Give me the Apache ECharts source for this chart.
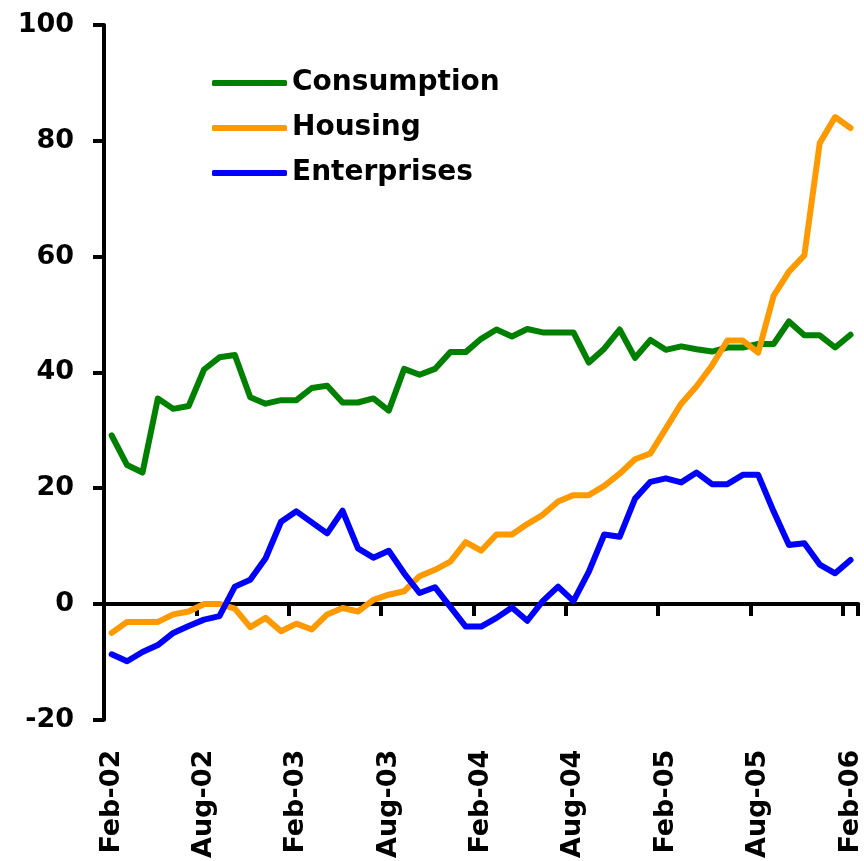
<!DOCTYPE html>
<html>
<head>
<meta charset="utf-8">
<script src="https://cdn.jsdelivr.net/npm/echarts@6/dist/echarts.min.js"></script>
<style>
html,body{margin:0;padding:0;background:#fff;}
#chart{width:864px;height:861px;}
</style>
</head>
<body>
<div id="chart"></div>
<script>
const categories = [
  'Feb-02','Mar-02','Apr-02','May-02','Jun-02','Jul-02','Aug-02','Sep-02','Oct-02','Nov-02','Dec-02','Jan-03',
  'Feb-03','Mar-03','Apr-03','May-03','Jun-03','Jul-03','Aug-03','Sep-03','Oct-03','Nov-03','Dec-03','Jan-04',
  'Feb-04','Mar-04','Apr-04','May-04','Jun-04','Jul-04','Aug-04','Sep-04','Oct-04','Nov-04','Dec-04','Jan-05',
  'Feb-05','Mar-05','Apr-05','May-05','Jun-05','Jul-05','Aug-05','Sep-05','Oct-05','Nov-05','Dec-05','Jan-06',
  'Feb-06'
];
const consumption = [29.1,24.0,22.7,35.5,33.7,34.2,40.5,42.6,43.0,35.7,34.6,35.2,
  35.2,37.3,37.7,34.8,34.8,35.5,33.4,40.6,39.6,40.6,43.5,43.5,
  45.8,47.4,46.2,47.5,46.9,46.9,46.9,41.7,44.1,47.4,42.5,45.6,
  43.9,44.5,44.0,43.6,44.3,44.3,44.9,44.9,48.8,46.4,46.4,44.3,46.5];
const housing = [-5.0,-3.1,-3.1,-3.1,-1.8,-1.3,0,0,-0.8,-4.0,-2.4,-4.7,
  -3.4,-4.4,-1.8,-0.7,-1.3,0.7,1.6,2.2,4.8,5.9,7.3,10.7,
  9.2,12.0,12.0,13.8,15.4,17.7,18.8,18.8,20.4,22.5,25.0,26.0,
  30.3,34.6,37.6,41.2,45.5,45.5,43.4,53.2,57.4,60.2,79.6,84.1,82.2];
const enterprises = [-8.7,-9.9,-8.3,-7.1,-5.0,-3.8,-2.7,-2.1,3.0,4.2,7.9,14.2,
  16.0,14.1,12.2,16.1,9.6,8.0,9.2,5.3,1.9,2.9,-0.5,-3.9,
  -3.9,-2.4,-0.6,-2.9,0.5,3.0,0.5,5.6,12.0,11.6,18.2,21.1,
  21.7,21.0,22.7,20.7,20.7,22.3,22.3,16.0,10.2,10.5,6.8,5.3,7.6];
const seriesNames = ['Consumption','Housing','Enterprises'];
const seriesColors = ['#008000','#FF9900','#0000FF'];
const yTicks = {min:-20, max:100, interval:20};

const FONT = 'DejaVu Sans';
const chart = echarts.init(document.getElementById('chart'), null, {renderer:'canvas'});
const mk = (name, data, color) => ({
  name, type:'line', data, xAxisIndex:0, yAxisIndex:0,
  showSymbol:false, symbol:'none', smooth:false,
  lineStyle:{color, width:6, cap:'round', join:'round'},
  itemStyle:{color},
  emphasis:{disabled:true}, animation:false
});
chart.setOption({
  animation:false,
  backgroundColor:'#fff',
  grid:{left:104, right:3.5, top:25, bottom:139, containLabel:false},
  legend:{
    orient:'vertical', left:207, top:64,
    data:seriesNames, icon:'roundRect', itemWidth:75, itemHeight:6, itemGap:17,
    textStyle:{fontFamily:FONT, fontWeight:'bold', fontSize:28, color:'#000'},
    selectedMode:false
  },
  xAxis:[
    {
      type:'category', data:categories, position:'bottom', boundaryGap:true,
      axisLine:{show:false, onZero:false},
      axisTick:{show:false},
      axisLabel:{show:true, interval:5, rotate:90, margin:30,
        fontFamily:FONT, fontWeight:'bold', fontSize:27, color:'#000'},
      splitLine:{show:false}
    },
    {
      type:'category', data:categories, position:'bottom', boundaryGap:true,
      axisLine:{show:true, onZero:true, lineStyle:{color:'#000', width:4}},
      axisTick:{show:true, interval:5, length:12, inside:false, lineStyle:{color:'#000', width:4}},
      axisLabel:{show:false},
      splitLine:{show:false}
    }
  ],
  yAxis:{
    type:'value', min:yTicks.min, max:yTicks.max, interval:yTicks.interval,
    axisLine:{show:true, onZero:false, lineStyle:{color:'#000', width:4}},
    axisTick:{show:true, length:11, inside:false, lineStyle:{color:'#000', width:4}},
    axisLabel:{margin:30, fontFamily:FONT, fontWeight:'bold', fontSize:27, color:'#000'},
    splitLine:{show:false}
  },
  series:[
    mk(seriesNames[0], consumption, seriesColors[0]),
    mk(seriesNames[1], housing, seriesColors[1]),
    mk(seriesNames[2], enterprises, seriesColors[2])
  ]
});
</script>
</body>
</html>
